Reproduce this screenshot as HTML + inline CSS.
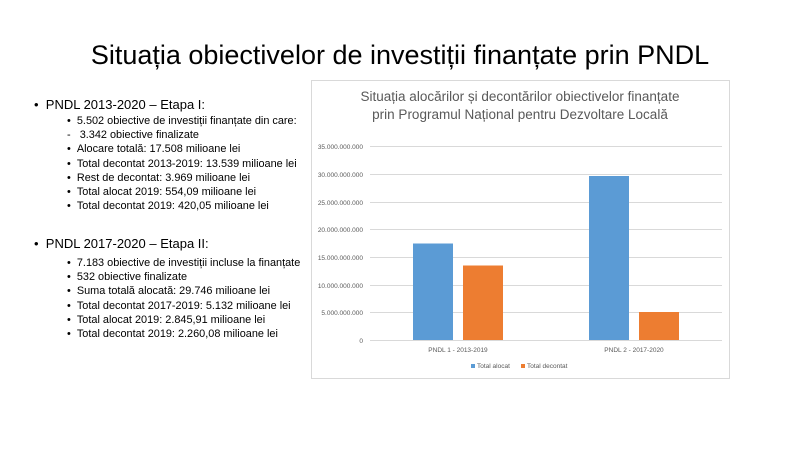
<!DOCTYPE html>
<html><head><meta charset="utf-8"><style>
body{margin:0;width:800px;height:450px;background:#fff;font-family:"Liberation Sans",sans-serif;position:relative;overflow:hidden;color:#000}
.t{position:absolute;white-space:nowrap}
.h{font-size:13px}
.s{font-size:10.9px}
</style></head><body>
<div class="t" style="left:0;width:800px;text-align:center;top:40px;font-size:27px;">Situația obiectivelor de investiții finanțate prin PNDL</div>

<div class="t h" style="left:34px;top:97px">•&nbsp;&nbsp;PNDL 2013-2020 – Etapa I:</div>
<div class="t s" style="left:67px;top:114px;line-height:14.2px">
•&nbsp;&nbsp;5.502 obiective de investiții finanțate din care:<br>
-&nbsp;&nbsp;&nbsp;3.342 obiective finalizate<br>
•&nbsp;&nbsp;Alocare totală: 17.508 milioane lei<br>
•&nbsp;&nbsp;Total decontat 2013-2019: 13.539 milioane lei<br>
•&nbsp;&nbsp;Rest de decontat: 3.969 milioane lei<br>
•&nbsp;&nbsp;Total alocat 2019: 554,09 milioane lei<br>
•&nbsp;&nbsp;Total decontat 2019: 420,05 milioane lei</div>

<div class="t h" style="left:34px;top:236px">•&nbsp;&nbsp;PNDL 2017-2020 – Etapa II:</div>
<div class="t s" style="left:67px;top:256px;line-height:14.2px">
•&nbsp;&nbsp;7.183 obiective de investiții incluse la finanțate<br>
•&nbsp;&nbsp;532 obiective finalizate<br>
•&nbsp;&nbsp;Suma totală alocată: 29.746 milioane lei<br>
•&nbsp;&nbsp;Total decontat 2017-2019: 5.132 milioane lei<br>
•&nbsp;&nbsp;Total alocat 2019: 2.845,91 milioane lei<br>
•&nbsp;&nbsp;Total decontat 2019: 2.260,08 milioane lei</div>

<svg style="position:absolute;left:0;top:0" width="800" height="450" font-family="Liberation Sans, sans-serif">
<rect x="311.5" y="80.5" width="418" height="298" fill="#fff" stroke="#d9d9d9"/>
<text x="520" y="101" text-anchor="middle" font-size="13.5" fill="#595959">Situația alocărilor și decontărilor obiectivelor finanțate</text>
<text x="520" y="119" text-anchor="middle" font-size="13.5" fill="#595959">prin Programul Național pentru Dezvoltare Locală</text>
<g stroke="#d9d9d9" stroke-width="1">
<line x1="370" x2="722" y1="146.5" y2="146.5"/><line x1="370" x2="722" y1="174.5" y2="174.5"/>
<line x1="370" x2="722" y1="202.5" y2="202.5"/><line x1="370" x2="722" y1="229.5" y2="229.5"/>
<line x1="370" x2="722" y1="257.5" y2="257.5"/><line x1="370" x2="722" y1="285.5" y2="285.5"/>
<line x1="370" x2="722" y1="312.5" y2="312.5"/><line x1="370" x2="722" y1="340.5" y2="340.5"/>
</g>
<g font-size="6.5" fill="#595959" text-anchor="end">
<text x="363" y="149">35.000.000.000</text><text x="363" y="177">30.000.000.000</text>
<text x="363" y="205">25.000.000.000</text><text x="363" y="232">20.000.000.000</text>
<text x="363" y="260">15.000.000.000</text><text x="363" y="288">10.000.000.000</text>
<text x="363" y="315">5.000.000.000</text><text x="363" y="343">0</text>
</g>
<rect x="413" y="243.5" width="40" height="96.5" fill="#5b9bd5"/>
<rect x="463" y="265.5" width="40" height="74.5" fill="#ed7d31"/>
<rect x="589" y="176" width="40" height="164" fill="#5b9bd5"/>
<rect x="639" y="312" width="40" height="28" fill="#ed7d31"/>
<g font-size="6.5" fill="#595959" text-anchor="middle">
<text x="458" y="352">PNDL 1 - 2013-2019</text>
<text x="634" y="352">PNDL 2 - 2017-2020</text>
</g>
<rect x="471" y="364" width="4" height="4" fill="#5b9bd5"/>
<text x="477" y="368" font-size="6.5" fill="#595959">Total alocat</text>
<rect x="521" y="364" width="4" height="4" fill="#ed7d31"/>
<text x="527" y="368" font-size="6.5" fill="#595959">Total decontat</text>
</svg>
</body></html>
